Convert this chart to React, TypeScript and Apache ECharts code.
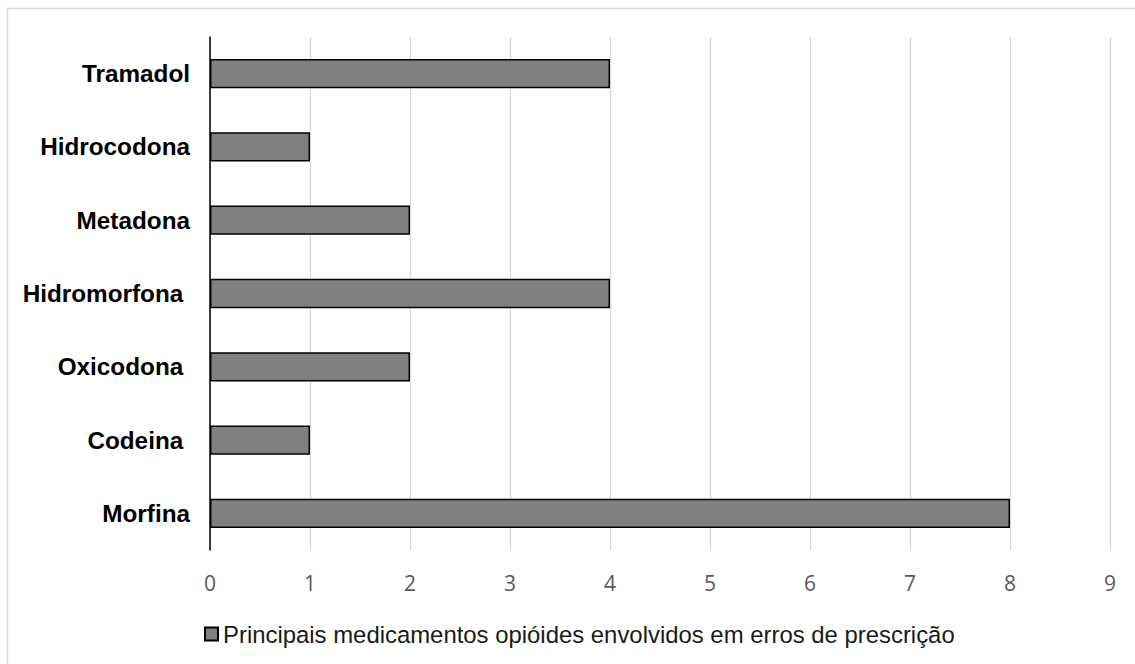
import React, { useEffect, useRef } from "react";
import * as echarts from "echarts";

const categories = ["Morfina", "Codeina ", "Oxicodona ", "Hidromorfona ", "Metadona", "Hidrocodona", "Tramadol"];
const values = [8, 1, 2, 4, 2, 1, 4];
const seriesName = "Principais medicamentos opióides envolvidos em erros de prescrição";

export default function App() {
  const ref = useRef<HTMLDivElement>(null);
  useEffect(() => {
    if (!ref.current) return;
    const chart = echarts.init(ref.current, null, { renderer: "svg" });
    chart.setOption({
      animation: false,
      backgroundColor: "#ffffff",
      graphic: [
        {
          type: "rect",
          shape: { x: 7.5, y: 8.5, width: 1140, height: 670 },
          style: { fill: "none", stroke: "#d9d9d9", lineWidth: 1.5 },
          silent: true,
        },
      ],
      grid: { left: 210, right: 25, top: 37, bottom: 114, containLabel: false },
      legend: {
        left: 199,
        top: 617,
        padding: 5,
        icon: "rect",
        itemWidth: 13,
        itemHeight: 13,
        itemGap: 5,
        textStyle: { fontFamily: "Liberation Sans, Arial, sans-serif", fontSize: 23.9, color: "#1a1a1a", padding: [0, 0, 0, 0] },
        data: [seriesName],
      },
      xAxis: {
        type: "value",
        min: 0,
        max: 9,
        interval: 1,
        axisLine: { show: false },
        axisTick: { show: false },
        splitLine: { show: true, lineStyle: { color: "#d9d9d9", width: 1.3 } },
        axisLabel: {
          margin: 22,
          fontFamily: "Open Sans, sans-serif",
          fontSize: 21,
          color: "#595959",
        },
      },
      yAxis: {
        type: "category",
        data: categories,
        axisLine: { show: true, lineStyle: { color: "#000000", width: 1.5 } },
        axisTick: { show: false },
        axisLabel: {
          margin: 20,
          fontFamily: "Liberation Sans, Arial, sans-serif",
          fontWeight: "bold",
          fontSize: 24.3,
          color: "#000000",
        },
      },
      series: [
        {
          name: seriesName,
          type: "bar",
          data: values,
          barWidth: "40%",
          itemStyle: { color: "#808080", borderColor: "#000000", borderWidth: 1.5 },
        },
      ],
    });
    return () => chart.dispose();
  }, []);
  return (
    <div
      ref={ref}
      style={{ position: "fixed", left: 0, top: 0, width: 1135, height: 664 }}
    />
  );
}
